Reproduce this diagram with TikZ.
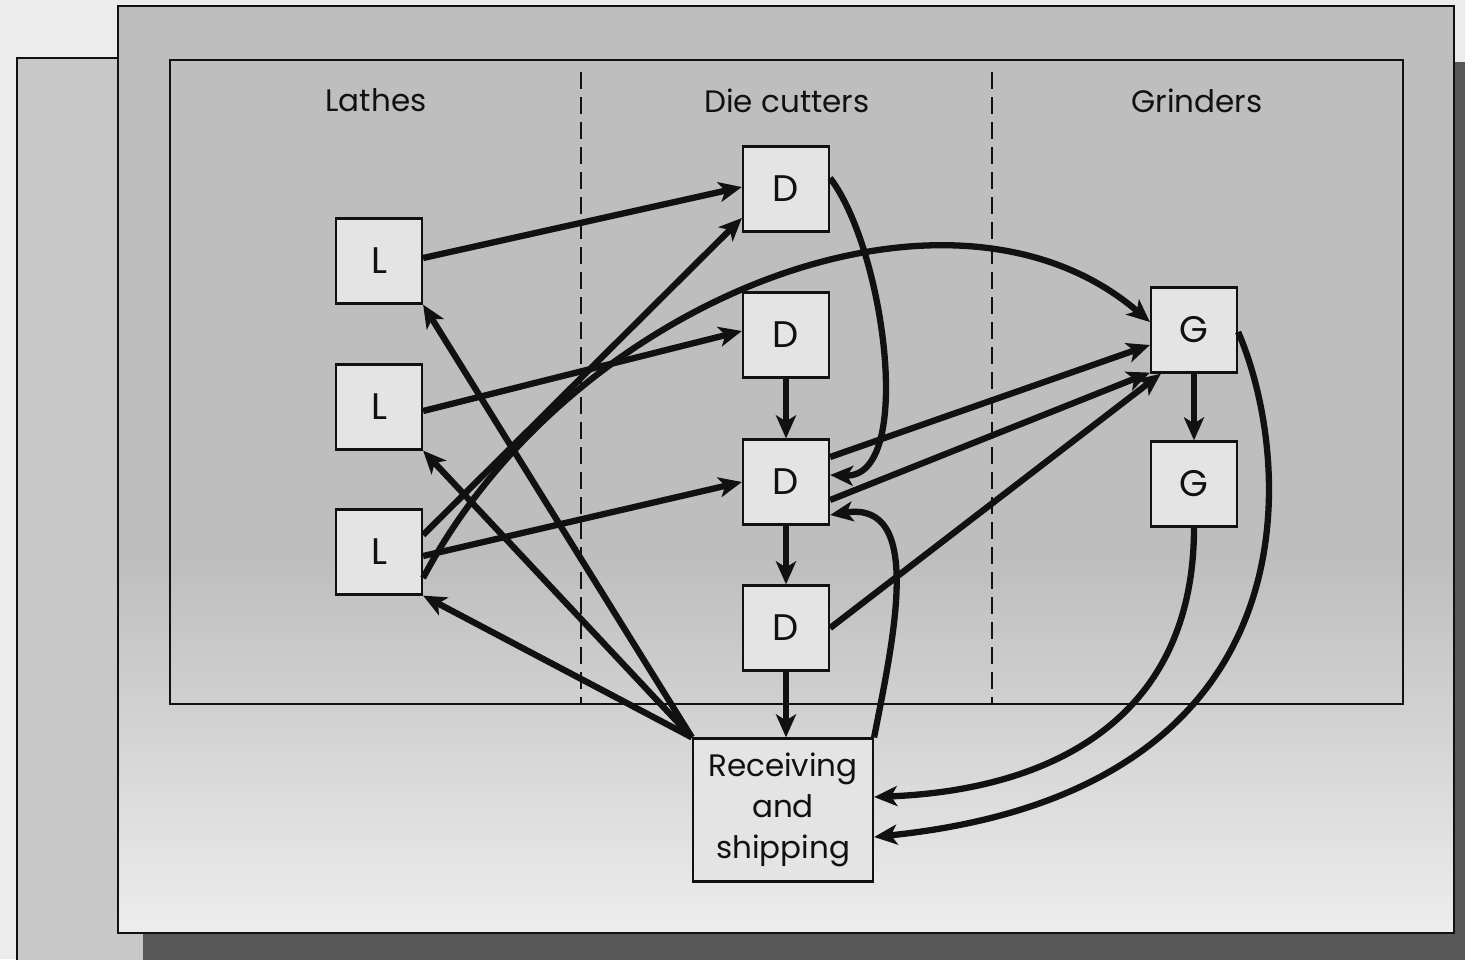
\documentclass[tikz,border=0pt]{standalone}
\usepackage{fontspec}
\setmainfont{Poppins}
\usetikzlibrary{arrows.meta}
\definecolor{outbg}{HTML}{ECECEC}
\definecolor{backpanel}{HTML}{C8C8C8}
\definecolor{panel}{HTML}{BEBEBE}
\definecolor{panellight}{HTML}{EDEDED}
\definecolor{shadowc}{HTML}{575757}
\definecolor{boxfill}{HTML}{E4E4E4}
\definecolor{ink}{HTML}{111111}
\begin{document}
\begin{tikzpicture}[x=1pt,y=-1pt,
  station/.style={draw=ink,line width=2.2pt,fill=boxfill,minimum width=86pt,minimum height=85pt,inner sep=0pt,text=ink,font=\fontsize{37}{44}\selectfont},
  flow/.style={draw=ink,line width=6.3pt,-{Stealth[length=23pt,width=20pt,inset=6pt]}},
  dept/.style={anchor=base,font=\fontsize{31}{37}\selectfont,text=ink},
  frame/.style={draw=ink,line width=2.2pt},
  divider/.style={draw=ink,line width=2pt,dash pattern=on 17pt off 8pt}]
\useasboundingbox (0,0) rectangle (1465,959);
\clip (0,0) rectangle (1465,959);
% backgrounds
\fill[outbg] (0,0) rectangle (1465,959);
\filldraw[fill=backpanel,frame] (17,58) rectangle (300,1000);
\fill[shadowc] (143,62) rectangle (1480,980);
\fill[panel] (118,6) rectangle (1454,560);
\shade[top color=panel,bottom color=panellight] (118,559) rectangle (1454,933);
\draw[frame] (118,6) rectangle (1454,933);
\draw[frame] (170,60) rectangle (1403,704);
\draw[divider] (581,72) -- (581,704);
\draw[divider] (992,72) -- (992,704);
% department labels
\node[dept] (lathes) at (376,111) {Lathes};
\node[dept] (diecut) at (787,112) {Die cutters};
\node[dept] (grind) at (1197,112) {Grinders};
% stations
\node[station] (L1) at (379,261) {L};
\node[station] (L2) at (379,407) {L};
\node[station] (L3) at (379,552) {L};
\node[station] (D1) at (786,189) {D};
\node[station] (D2) at (786,335) {D};
\node[station] (D3) at (786,482) {D};
\node[station] (D4) at (786,628) {D};
\node[station] (G1) at (1194,330) {G};
\node[station] (G2) at (1194,484) {G};
\node[station,minimum width=180pt,minimum height=143pt,align=center,font=\fontsize{31}{41}\selectfont] (RS) at (783,810) {Receiving\\and\\shipping};
% flows
\draw[flow] ([yshift=3pt]L1.east) -- ([yshift=2pt]D1.west);
\draw[flow] ([yshift=-4pt]L2.east) -- ([yshift=4pt]D2.west);
\draw[flow] ([yshift=-4pt]L3.east) -- (D3.west);
\draw[flow] ([yshift=17pt]L3.east) -- ([yshift=-29pt]D1.west);
\draw[flow] ([yshift=-26pt]L3.east) .. controls (570,300) and (950,150) .. ([yshift=8pt]G1.west);
\draw[flow] (RS.north west) -- (L1.south east);
\draw[flow] (RS.north west) -- (L2.south east);
\draw[flow] (RS.north west) -- (L3.south east);
\draw[flow] ([yshift=11pt]D1.east) .. controls (885,250) and (915,478) .. ([yshift=7pt]D3.east);
\draw[flow] (D2.south) -- (D3.north);
\draw[flow] (D3.south) -- (D4.north);
\draw[flow] (D4.south) -- (D4.south |- RS.north);
\draw[flow] ([yshift=25pt]D3.east) -- ([yshift=-15pt]G1.west);
\draw[flow] ([yshift=-18pt]D3.east) -- ([yshift=1pt]G1.south west);
\draw[flow] (D4.east) -- ([xshift=11pt]G1.south west);
\draw[flow] (G1.south) -- (G2.north);
\draw[flow] ([yshift=-2pt]G1.east) .. controls (1290,450) and (1330,790) .. ([yshift=-27pt]RS.east);
\draw[flow] (G2.south) .. controls (1194,720) and (1050,790) .. ([yshift=13pt]RS.east);
\draw[flow] (RS.north east) .. controls (893,640) and (925,500) .. ([yshift=-33pt]D3.east);
\end{tikzpicture}
\end{document}
